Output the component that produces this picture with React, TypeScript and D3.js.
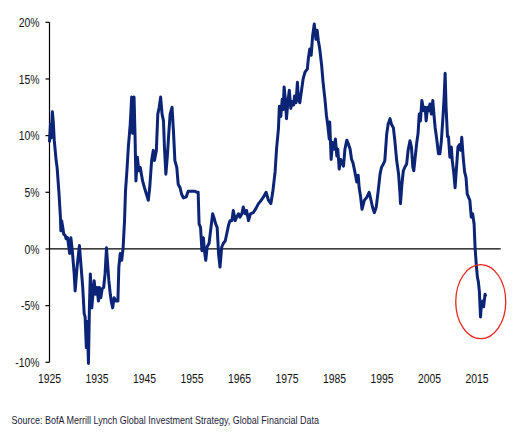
import React from "react";
import * as d3 from "d3";

const years: number[] = [
  1925.0, 1925.2, 1925.35, 1925.6, 1925.8, 1926.0, 1926.4, 1926.6, 1927.0, 1927.3, 1927.4, 1927.55, 1927.8, 1928.0, 1928.3, 1928.5, 1928.8,
  1929.25, 1929.5, 1929.8, 1930.2, 1930.4, 1930.8, 1931.3, 1931.6, 1932.0, 1932.3, 1932.5, 1932.75, 1932.95, 1933.2, 1933.4, 1933.6, 1933.9,
  1934.4, 1934.7, 1935.0, 1935.3, 1935.5, 1935.8, 1936.1, 1936.4, 1936.7, 1937.0, 1937.2, 1937.5, 1937.8, 1938.0, 1938.3, 1938.6, 1939.0,
  1939.4, 1939.6, 1939.9, 1940.2, 1940.5, 1940.8, 1941.0, 1941.3, 1941.6, 1942.0, 1942.3, 1942.5, 1942.8, 1943.0, 1943.2, 1943.5, 1943.8,
  1944.1, 1944.6, 1945.0, 1945.4, 1945.8, 1946.1, 1946.5, 1946.85, 1947.1, 1947.5, 1947.8, 1948.1, 1948.4, 1948.7, 1949.0, 1949.2, 1949.5,
  1949.8, 1950.1, 1950.4, 1950.8, 1951.1, 1951.4, 1951.8, 1952.1, 1952.5, 1952.8, 1953.2, 1953.8, 1954.2, 1954.9, 1955.6, 1956.0, 1956.3,
  1956.5, 1956.8, 1957.1, 1957.4, 1957.6, 1957.9, 1958.2, 1958.6, 1959.0, 1959.35, 1959.6, 1960.0, 1960.3, 1960.6, 1960.9, 1961.25, 1961.6,
  1962.0, 1962.3, 1962.7, 1963.0, 1963.4, 1963.7, 1964.1, 1964.4, 1964.8, 1965.1, 1965.5, 1965.8, 1966.2, 1966.5, 1966.9, 1967.3, 1967.9,
  1968.5, 1969.0, 1969.4, 1970.0, 1970.6, 1971.1, 1971.6, 1972.0, 1972.5, 1972.8, 1973.2, 1973.4, 1973.7, 1974.0, 1974.2, 1974.4, 1974.7,
  1974.9, 1975.2, 1975.5, 1975.8, 1976.1, 1976.4, 1976.6, 1976.9, 1977.2, 1977.4, 1977.7, 1978.1, 1978.4, 1978.8, 1979.3, 1979.5, 1979.8,
  1980.1, 1980.4, 1980.75, 1981.1, 1981.35, 1981.6, 1981.9, 1982.3, 1982.6, 1983.0, 1983.3, 1983.6, 1983.9, 1984.0, 1984.3, 1984.6, 1984.9,
  1985.2, 1985.5, 1985.7, 1986.0, 1986.3, 1986.6, 1986.9, 1987.2, 1987.6, 1987.9, 1988.3, 1988.6, 1988.9, 1989.3, 1989.7, 1990.0, 1990.2,
  1990.5, 1990.8, 1991.3, 1991.8, 1992.3, 1992.7, 1993.0, 1993.4, 1993.8, 1994.2, 1994.6, 1994.9, 1995.3, 1995.6, 1996.0, 1996.3, 1996.7,
  1997.0, 1997.4, 1997.7, 1998.1, 1998.5, 1998.8, 1998.9, 1999.2, 1999.5, 1999.8, 2000.2, 2000.5, 2000.9, 2001.2, 2001.5, 2001.7, 2002.0,
  2002.3, 2002.6, 2002.85, 2003.1, 2003.4, 2003.8, 2004.1, 2004.3, 2004.6, 2004.9, 2005.1, 2005.4, 2005.7, 2006.0, 2006.2, 2006.5, 2006.9,
  2007.2, 2007.5, 2007.9, 2008.1, 2008.3, 2008.5, 2008.8, 2009.0, 2009.3, 2009.6, 2009.8, 2010.1, 2010.4, 2010.7, 2011.0, 2011.3, 2011.6,
  2011.8, 2012.1, 2012.4, 2012.7, 2012.95, 2013.2, 2013.5, 2013.8, 2014.1, 2014.4, 2014.6, 2014.9, 2015.1, 2015.3, 2015.5, 2015.75, 2015.9,
  2016.2, 2016.4, 2016.7, 2016.8,
];

const realRates: number[] = [
  9.5, 11.0, 9.8, 12.1, 11.2, 9.6, 7.8, 7.2, 4.9, 2.8, 1.6, 2.5, 1.9, 1.3, 1.2, 0.9, 1.0,
  -0.4, 1.0, -0.15, -2.2, -3.7, -1.6, 0.3, -1.3, -3.4, -5.7, -6.0, -8.7, -6.4, -10.1, -5.2, -2.2, -5.2,
  -2.8, -4.0, -3.4, -4.6, -3.4, -4.3, -3.5, -3.4, -2.2, 0.1, -1.1, -2.8, -4.0, -4.6, -5.2, -4.3, -4.6,
  -4.6, -1.6, -0.4, -1.0, 0.1, 2.5, 5.1, 6.9, 9.0, 11.0, 13.4, 10.2, 13.4, 10.2, 6.0, 8.1, 6.9,
  7.2, 6.0, 5.4, 4.85, 4.3, 5.4, 7.8, 8.7, 7.8, 8.7, 11.9, 12.5, 13.4, 11.9, 11.3, 9.0, 6.6,
  8.1, 10.1, 11.9, 12.5, 10.4, 7.8, 7.2, 5.7, 5.4, 4.85, 4.5, 4.6, 5.1, 5.1, 5.1, 5.0, 5.0,
  2.2, 1.9, -0.15, 1.0, -0.1, -1.0, 0.2, 0.5, 1.9, 3.1, 2.8, 2.2, 1.9, -0.45, -1.6, 0.15, 0.5,
  0.7, 1.3, 2.1, 2.5, 2.5, 3.4, 2.5, 2.8, 3.1, 2.8, 3.1, 3.7, 3.1, 3.4, 2.5, 3.1, 3.2,
  3.6, 4.0, 4.2, 4.55, 5.0, 4.3, 4.0, 5.0, 6.8, 8.8, 10.6, 12.6, 11.7, 13.2, 12.3, 14.3, 13.0,
  11.5, 13.0, 14.0, 12.4, 13.0, 12.7, 13.5, 12.9, 14.7, 13.2, 12.9, 14.1, 15.0, 15.6, 15.9, 16.8, 17.65,
  17.1, 18.8, 19.85, 18.5, 19.3, 18.4, 17.65, 16.2, 14.7, 13.2, 11.8, 10.9, 9.7, 11.2, 7.9, 9.4, 8.8,
  9.7, 8.2, 8.8, 7.05, 7.9, 7.6, 7.3, 8.8, 9.6, 9.3, 8.8, 7.9, 7.6, 6.8, 5.9, 6.5, 5.4,
  4.6, 3.5, 4.3, 4.55, 5.0, 4.3, 3.7, 3.2, 3.7, 5.1, 6.6, 7.2, 7.5, 7.8, 10.15, 11.0, 11.5,
  11.0, 10.7, 9.6, 7.8, 6.6, 4.85, 4.0, 5.7, 6.9, 7.2, 7.5, 8.7, 9.55, 9.0, 7.2, 6.9, 8.1,
  9.3, 10.2, 11.9, 11.3, 13.1, 12.2, 12.5, 11.3, 12.5, 12.2, 12.8, 11.9, 13.1, 11.6, 10.7, 9.8, 8.4,
  8.4, 9.5, 12.0, 13.5, 15.5, 12.5, 9.9, 9.9, 8.1, 9.0, 7.8, 6.8, 5.4, 7.2, 9.0, 9.2, 8.7,
  9.85, 8.1, 6.8, 6.3, 4.85, 4.6, 4.3, 2.8, 3.1, 2.2, 0.15, -1.6, -2.5, -2.9, -3.7, -6.0, -5.1,
  -4.6, -5.1, -4.0, -4.1,
];

const yTicks: number[] = [-10, -5, 0, 5, 10, 15, 20];
const xTicks: number[] = [1925, 1935, 1945, 1955, 1965, 1975, 1985, 1995, 2005, 2015];
const sourceText = "Source: BofA Merrill Lynch Global Investment Strategy, Global Financial Data";
const highlight = { year: 2015.8, value: -4.65 };

export default function App() {
  const W = 514;
  const H = 444;
  const x = d3.scaleLinear().domain([1925, 2020]).range([49.5, 500.7]);
  const y = d3.scaleLinear().domain([-10, 20]).range([362.3, 22.3]);
  const pts: [number, number][] = years.map((yr, i) => [yr, realRates[i]]);
  const line = d3
    .line<[number, number]>()
    .x((d) => x(d[0]))
    .y((d) => y(d[1]))
    .curve(d3.curveLinear);
  const font = "'Liberation Sans', Arial, sans-serif";
  const sx = 0.8;
  return (
    <svg
      width={W}
      height={H}
      style={{ position: "absolute", left: 0, top: 0, background: "#fff" }}
    >
      <rect x={0} y={0} width={W} height={H} fill="#fff" />
      <line x1={49.5} x2={49.5} y1={y(20)} y2={y(-10)} stroke="#000" strokeWidth={1.2} />
      {yTicks.map((t) => (
        <g key={t}>
          <line x1={45.5} x2={49.5} y1={y(t)} y2={y(t)} stroke="#000" strokeWidth={1.2} />
          <g transform={`translate(39.5,${y(t) + 4.6}) scale(${sx},1)`}>
            <text textAnchor="end" fontFamily={font} fontSize={13} fill="#111">
              {`${t}%`}
            </text>
          </g>
        </g>
      ))}
      <line x1={49.5} x2={x(2020)} y1={y(0)} y2={y(0)} stroke="#000" strokeWidth={1.2} />
      {xTicks.map((t) => (
        <g key={t} transform={`translate(${x(t)},383) scale(${sx},1)`}>
          <text textAnchor="middle" fontFamily={font} fontSize={13} fill="#111">
            {t}
          </text>
        </g>
      ))}
      <path
        d={line(pts) || ""}
        fill="none"
        stroke="#0b2476"
        strokeWidth={3}
        strokeLinejoin="round"
        strokeLinecap="round"
      />
      <ellipse
        cx={x(highlight.year)}
        cy={y(highlight.value)}
        rx={25}
        ry={37}
        fill="none"
        stroke="#e8261f"
        strokeWidth={1.3}
      />
      <g transform={`translate(11.5,423.5) scale(0.82,1)`}>
        <text fontFamily={font} fontSize={11} fill="#1c1c38">
          {sourceText}
        </text>
      </g>
    </svg>
  );
}
